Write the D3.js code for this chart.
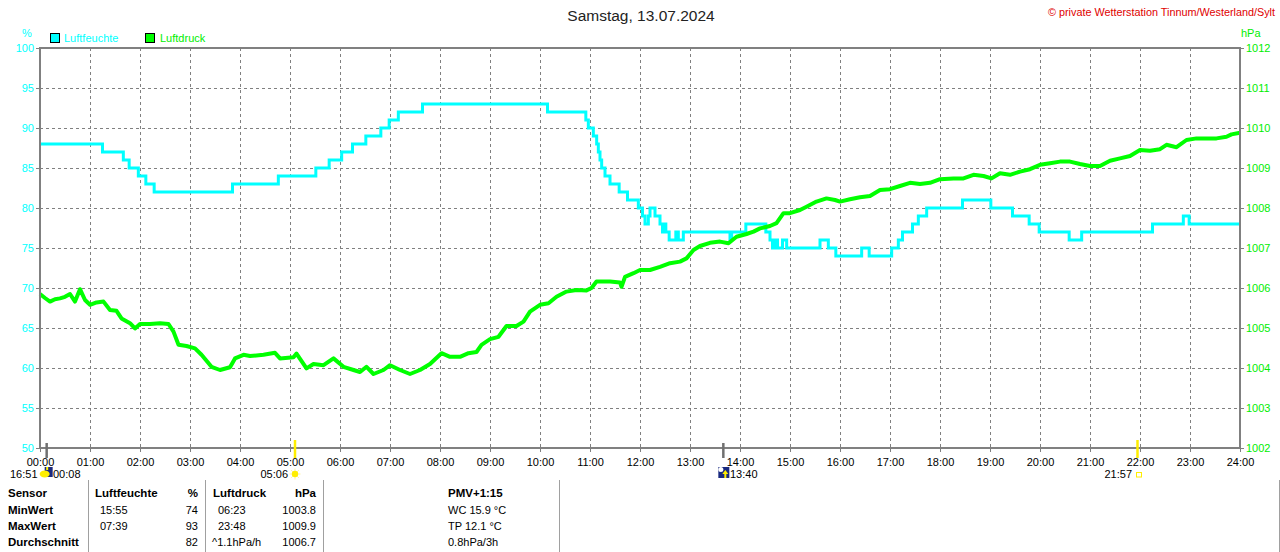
<!DOCTYPE html>
<html><head><meta charset="utf-8">
<script src="https://cdn.jsdelivr.net/npm/d3@7/dist/d3.min.js"></script>
<style>
html,body{margin:0;padding:0;background:#fff;}
svg text{font-family:"Liberation Sans",Arial,sans-serif;}
</style></head>
<body>
<svg id="c" width="1280" height="552"></svg>
<script>
// ---------- data ----------
const title = "Samstag, 13.07.2024";
const copyright = "© private Wetterstation Tinnum/Westerland/Sylt";
const hourLabels = ["00:00","01:00","02:00","03:00","04:00","05:00","06:00","07:00","08:00","09:00","10:00","11:00","12:00","13:00","14:00","15:00","16:00","17:00","18:00","19:00","20:00","21:00","22:00","23:00","24:00"];
const humTicks = [50,55,60,65,70,75,80,85,90,95,100];
const presTicks = [1002,1003,1004,1005,1006,1007,1008,1009,1010,1011,1012];

// humidity (%) : step changes (time, new value)
const humTimes = ["00:00","01:15","01:40","01:47","01:58","02:07","02:17","03:51","04:46","05:31","05:47","06:02","06:15","06:31","06:49","06:59","07:10","07:39",
 "10:09","10:55","10:58","11:04","11:08","11:10","11:12","11:14","11:18","11:24","11:35","11:45","11:58","12:03","12:06","12:10","12:12","12:18","12:24","12:27","12:29","12:31","12:35","12:43","12:46","12:52",
 "13:48","13:50","14:07","14:31","14:36","14:39","14:42","14:45","14:51","14:56","15:36","15:46","15:55","16:26","16:35","17:02","17:10","17:15","17:27","17:34","17:44","18:27","19:01","19:27","19:47","19:59","20:35","20:50","22:15","22:52","22:59","24:00"];
const humValues = [88,87,86,85,84,83,82,83,84,85,86,87,88,89,90,91,92,93,
 92,91,90,89,88,87,86,85,84,83,82,81,80,79,78,79,80,79,78,77,78,77,76,77,76,77,
 76,77,78,77,76,75,76,75,76,75,76,75,74,75,74,75,76,77,78,79,80,81,80,79,78,77,76,77,78,79,78,78];

// air pressure (hPa)
const presTimes = [0.0,0.1,0.2,0.3,0.4,0.5,0.6,0.7,0.8,0.9,1.0,1.13,1.27,1.4,1.53,1.63,1.8,1.9,2.0,2.2,2.4,2.57,2.67,2.77,2.93,3.1,3.23,3.33,3.43,3.6,3.8,3.9,4.07,4.2,4.47,4.7,4.8,5.07,5.13,5.33,5.47,5.67,5.87,6.07,6.27,6.4,6.53,6.67,6.87,7.0,7.2,7.4,7.6,7.8,8.03,8.2,8.4,8.57,8.73,8.83,9.0,9.17,9.33,9.53,9.67,9.8,10.0,10.17,10.33,10.53,10.73,10.93,11.03,11.13,11.4,11.6,11.63,11.7,11.87,12.0,12.2,12.4,12.6,12.8,12.93,13.07,13.2,13.4,13.6,13.77,13.93,14.13,14.27,14.4,14.6,14.73,14.87,15.0,15.2,15.33,15.53,15.73,15.9,16.0,16.2,16.4,16.6,16.8,17.0,17.2,17.4,17.6,17.8,18.0,18.27,18.47,18.67,18.87,19.03,19.2,19.4,19.6,19.8,20.0,20.2,20.4,20.6,20.8,21.0,21.2,21.4,21.6,21.8,22.0,22.2,22.4,22.53,22.73,22.93,23.13,23.33,23.53,23.73,23.83,24.0];
const presValues = [1005.85,1005.75,1005.66,1005.72,1005.74,1005.78,1005.85,1005.66,1005.97,1005.7,1005.58,1005.64,1005.66,1005.45,1005.43,1005.24,1005.12,1004.99,1005.1,1005.1,1005.12,1005.1,1004.91,1004.58,1004.55,1004.49,1004.33,1004.18,1004.03,1003.95,1004.02,1004.24,1004.33,1004.3,1004.33,1004.38,1004.24,1004.27,1004.36,1003.99,1004.1,1004.07,1004.24,1004.03,1003.95,1003.9,1004.03,1003.85,1003.95,1004.07,1003.95,1003.85,1003.95,1004.1,1004.37,1004.28,1004.28,1004.37,1004.4,1004.58,1004.72,1004.78,1005.05,1005.05,1005.16,1005.41,1005.58,1005.62,1005.78,1005.91,1005.95,1005.94,1006.0,1006.16,1006.16,1006.14,1006.03,1006.28,1006.37,1006.45,1006.45,1006.53,1006.62,1006.66,1006.74,1006.95,1007.05,1007.13,1007.16,1007.12,1007.28,1007.35,1007.41,1007.49,1007.55,1007.62,1007.87,1007.87,1007.95,1008.03,1008.16,1008.24,1008.2,1008.16,1008.22,1008.27,1008.3,1008.45,1008.47,1008.55,1008.63,1008.6,1008.63,1008.72,1008.74,1008.74,1008.83,1008.8,1008.74,1008.87,1008.83,1008.91,1008.97,1009.08,1009.12,1009.16,1009.16,1009.1,1009.05,1009.05,1009.18,1009.24,1009.3,1009.45,1009.43,1009.47,1009.58,1009.52,1009.7,1009.74,1009.74,1009.74,1009.78,1009.84,1009.88];

// sun/moon events
const moonSet = "00:08", sunRise = "05:06", moonRise = "13:40", sunSet = "21:57", sunSetPrev = "16:51";

// table
const tableHeader = ["Sensor","Luftfeuchte","%","Luftdruck","hPa"];
const tableRowNames = ["MinWert","MaxWert","Durchschnitt"];
const humTimesTbl = ["15:55","07:39",""];
const humValsTbl = ["74","93","82"];
const presTimesTbl = ["06:23","23:48","^1.1hPa/h"];
const presValsTbl = ["1003.8","1009.9","1006.7"];
const pmvLines = ["PMV+1:15","WC 15.9 °C","TP 12.1 °C","0.8hPa/3h"];

// ---------- drawing ----------
const toH = s => { const [h,m] = s.split(":").map(Number); return h + m/60; };
const svg = d3.select("#c");
const X0 = 40, X1 = 1240, Y0 = 448, Y1 = 48;
const x = d3.scaleLinear().domain([0,24]).range([X0,X1]);
const yH = d3.scaleLinear().domain([50,100]).range([Y0,Y1]);
const yP = d3.scaleLinear().domain([1002,1012]).range([Y0,Y1]);
const CY = "#00ffff", GR = "#00ff00", GRT = "#00ee00", GRID = "#808080";

// grid
const gGrid = svg.append("g");
gGrid.selectAll("line.v").data(d3.range(1,24)).join("line")
  .attr("x1",d=>x(d)).attr("x2",d=>x(d)).attr("y1",Y1).attr("y2",Y0)
  .attr("stroke",GRID).attr("stroke-dasharray","3,3").attr("shape-rendering","crispEdges");
gGrid.selectAll("line.h").data(humTicks.slice(1,-1)).join("line")
  .attr("x1",X0).attr("x2",X1).attr("y1",d=>yH(d)).attr("y2",d=>yH(d))
  .attr("stroke",GRID).attr("stroke-dasharray","3,3").attr("shape-rendering","crispEdges");

// humidity line
const humData = humTimes.map((t,i)=>({t:toH(t), v:humValues[i]}));
svg.append("path").datum(humData)
  .attr("d", d3.line().x(d=>x(d.t)).y(d=>yH(d.v)).curve(d3.curveStepAfter))
  .attr("fill","none").attr("stroke",CY).attr("stroke-width",3);

// pressure line
const presData = presTimes.map((t,i)=>({t, v:presValues[i]}));
svg.append("path").datum(presData)
  .attr("d", d3.line().x(d=>x(d.t)).y(d=>yP(d.v)))
  .attr("fill","none").attr("stroke",GR).attr("stroke-width",4).attr("stroke-linejoin","round");

// frame
svg.append("rect").attr("x",X0).attr("y",Y1).attr("width",X1-X0).attr("height",Y0-Y1)
  .attr("fill","none").attr("stroke",GRID).attr("stroke-width",2);

// axes
const axL = svg.append("g").attr("transform",`translate(${X0},0)`)
  .call(d3.axisLeft(yH).tickValues(humTicks).tickFormat(d3.format("d")).tickSize(4).tickPadding(2));
axL.select(".domain").remove();
axL.selectAll("line").attr("stroke",GRID);
axL.selectAll("text").attr("fill",CY).style("font-size","11px").style("font-family","Liberation Sans, Arial, sans-serif");

const axR = svg.append("g").attr("transform",`translate(${X1},0)`)
  .call(d3.axisRight(yP).tickValues(presTicks).tickFormat(d3.format("d")).tickSize(4).tickPadding(2));
axR.select(".domain").remove();
axR.selectAll("line").attr("stroke",GRID);
axR.selectAll("text").attr("fill",GRT).style("font-size","11px").style("font-family","Liberation Sans, Arial, sans-serif");

const axB = svg.append("g").attr("transform",`translate(0,${Y0})`)
  .call(d3.axisBottom(x).tickValues(d3.range(0,25)).tickFormat((d,i)=>hourLabels[i]).tickSize(4).tickPadding(6));
axB.select(".domain").remove();
axB.selectAll("line").attr("stroke",GRID);
axB.selectAll("text").attr("fill","#000").style("font-size","11px").style("font-family","Liberation Sans, Arial, sans-serif");

// unit labels
svg.append("text").attr("x",27).attr("y",37).attr("text-anchor","middle").attr("fill",CY).style("font-size","11px").text("%");
svg.append("text").attr("x",1241).attr("y",37).attr("fill",GRT).style("font-size","11px").text("hPa");

// legend
svg.append("rect").attr("x",50.5).attr("y",33.5).attr("width",9).attr("height",9).attr("fill",CY).attr("stroke","#000");
svg.append("text").attr("x",64).attr("y",42).attr("fill",CY).style("font-size","11px").text("Luftfeuchte");
svg.append("rect").attr("x",145.5).attr("y",33.5).attr("width",9).attr("height",9).attr("fill",GR).attr("stroke","#000");
svg.append("text").attr("x",160).attr("y",42).attr("fill",GRT).style("font-size","11px").text("Luftdruck");

// title + copyright
svg.append("text").attr("x",641).attr("y",21).attr("text-anchor","middle").attr("fill","#222").style("font-size","15.5px").text(title);
svg.append("text").attr("x",1275).attr("y",16).attr("text-anchor","end").attr("fill","#e00000").style("font-size","11px")
  .attr("textLength",227).attr("lengthAdjust","spacingAndGlyphs").text(copyright);

// event markers
const ev = [
  {t:toH(moonSet), c:"#707070", y1:443},
  {t:toH(sunRise), c:"#ffee00", y1:440},
  {t:toH(moonRise), c:"#707070", y1:443},
  {t:toH(sunSet), c:"#ffee00", y1:440}
];
svg.selectAll("line.ev").data(ev).join("line")
  .attr("x1",d=>x(d.t)).attr("x2",d=>x(d.t)).attr("y1",d=>d.y1).attr("y2",458)
  .attr("stroke",d=>d.c).attr("stroke-width",2.5);

const sub = svg.append("g").style("font-size","11px").attr("fill","#000");
sub.append("text").attr("x",10).attr("y",478).text(sunSetPrev);
// moon-set icon
sub.append("rect").attr("x",x(toH(moonSet))-2).attr("y",467).attr("width",8).attr("height",10).attr("fill","#1a2a80");
sub.append("ellipse").attr("cx",x(toH(moonSet))-2).attr("cy",474).attr("rx",5).attr("ry",3.5).attr("fill","#ffee00");
sub.append("rect").attr("x",x(toH(moonSet))-0.5).attr("y",467).attr("width",2).attr("height",3).attr("fill","#ffee00");
sub.append("text").attr("x",53).attr("y",478).text(moonSet);
// sunrise
sub.append("text").attr("x",288).attr("y",478).attr("text-anchor","end").text(sunRise);
const sx = x(toH(sunRise)), sy = 474;
sub.selectAll("line.ray").data(d3.range(8)).join("line")
  .attr("x1",d=>sx+Math.cos(d*Math.PI/4)*3).attr("y1",d=>sy+Math.sin(d*Math.PI/4)*3)
  .attr("x2",d=>sx+Math.cos(d*Math.PI/4)*5.5).attr("y2",d=>sy+Math.sin(d*Math.PI/4)*5.5)
  .attr("stroke","#fff3a0").attr("stroke-width",1);
sub.append("circle").attr("cx",sx).attr("cy",sy).attr("r",3.2).attr("fill","#ffee00");
// moonrise
const mx = x(toH(moonRise));
sub.append("rect").attr("x",mx-5).attr("y",467).attr("width",11).attr("height",11).attr("fill","#1a2a80");
sub.append("circle").attr("cx",mx-2.5).attr("cy",469.5).attr("r",2.5).attr("fill","#fff");
sub.append("path").attr("d",`M${mx+2},470 L${mx+5},474 L${mx+3},474 L${mx+3},478 L${mx+1},478 L${mx+1},474 L${mx-1},474 Z`).attr("fill","#ffee00");
sub.append("text").attr("x",730).attr("y",478).text(moonRise);
// sunset
sub.append("text").attr("x",1132).attr("y",478).attr("text-anchor","end").text(sunSet);
sub.append("rect").attr("x",x(toH(sunSet))-1).attr("y",472.5).attr("width",5).attr("height",4.5).attr("fill","none").attr("stroke","#ffee00");

// table
const tb = svg.append("g").style("font-size","11px").attr("fill","#000");
[88,205,323,559,1279].forEach(v=>{
  tb.append("line").attr("x1",v+0.5).attr("x2",v+0.5).attr("y1",480).attr("y2",552).attr("stroke","#a0a0a0");
});
const rowY = [497,514,530,546];
const bold = s => s.style("font-weight","bold").style("font-size","11.5px");
bold(tb.append("text").attr("x",8).attr("y",rowY[0]).text(tableHeader[0]));
bold(tb.append("text").attr("x",95).attr("y",rowY[0]).text(tableHeader[1]));
bold(tb.append("text").attr("x",198).attr("y",rowY[0]).attr("text-anchor","end").text(tableHeader[2]));
bold(tb.append("text").attr("x",213).attr("y",rowY[0]).text(tableHeader[3]));
bold(tb.append("text").attr("x",316).attr("y",rowY[0]).attr("text-anchor","end").text(tableHeader[4]));
tableRowNames.forEach((n,i)=>{
  const yy = rowY[i+1];
  bold(tb.append("text").attr("x",8).attr("y",yy).text(n));
  tb.append("text").attr("x",100).attr("y",yy).text(humTimesTbl[i]);
  tb.append("text").attr("x",198).attr("y",yy).attr("text-anchor","end").text(humValsTbl[i]);
  tb.append("text").attr("x",i<2?218:212).attr("y",yy).text(presTimesTbl[i]);
  tb.append("text").attr("x",316).attr("y",yy).attr("text-anchor","end").text(presValsTbl[i]);
});
pmvLines.forEach((s,i)=>{
  const t = tb.append("text").attr("x",448).attr("y",rowY[i]).text(s);
  if(i===0) bold(t);
});
</script>
</body></html>
